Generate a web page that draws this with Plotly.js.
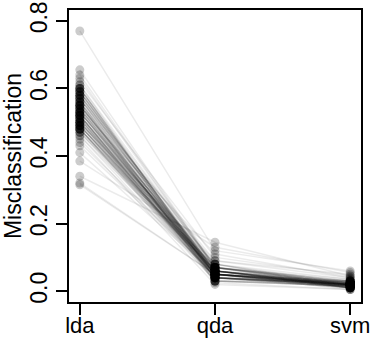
<!DOCTYPE html>
<html>
<head>
<meta charset="utf-8">
<script src="https://cdn.plot.ly/plotly-3.0.1.min.js"></script>
<style>html,body{margin:0;padding:0;background:#fff;}#chart{width:371px;height:339px;}</style>
</head>
<body>
<div id="chart"></div>
<script>
var methods = ['lda', 'qda', 'svm'];
var methodPos = [1, 2, 3];
var yTickVals = [0, 0.2, 0.4, 0.6, 0.8];
var yTickText = ['0.0', '0.2', '0.4', '0.6', '0.8'];

var lda = [0.53,0.58,0.49,0.55,0.60,0.51,0.47,0.56,0.52,0.59,
0.50,0.54,0.61,0.48,0.57,0.53,0.46,0.55,0.60,0.50,
0.52,0.49,0.56,0.58,0.51,0.44,0.54,0.59,0.48,0.53,
0.57,0.50,0.62,0.52,0.47,0.55,0.49,0.58,0.51,0.54,
0.60,0.48,0.53,0.56,0.43,0.52,0.59,0.50,0.55,0.49,
0.77,0.51,0.57,0.48,0.54,0.60,0.52,0.46,0.56,0.50,
0.58,0.53,0.49,0.61,0.55,0.41,0.52,0.57,0.48,0.54,
0.59,0.51,0.63,0.50,0.55,0.47,0.53,0.58,0.49,0.56,
0.32,0.52,0.60,0.48,0.54,0.385,0.51,0.57,0.50,0.655,
0.53,0.49,0.59,0.34,0.55,0.52,0.64,0.48,0.45,0.315];

var qda = [0.05,0.06,0.04,0.07,0.05,0.03,0.06,0.08,0.04,0.05,
0.07,0.05,0.04,0.06,0.09,0.05,0.03,0.06,0.05,0.07,
0.04,0.06,0.05,0.08,0.04,0.05,0.07,0.06,0.03,0.05,
0.06,0.04,0.10,0.05,0.07,0.04,0.06,0.05,0.08,0.04,
0.05,0.07,0.06,0.03,0.05,0.04,0.06,0.09,0.05,0.07,
0.12,0.05,0.06,0.04,0.05,0.07,0.03,0.06,0.05,0.08,
0.04,0.06,0.05,0.07,0.04,0.05,0.06,0.03,0.05,0.11,
0.06,0.04,0.07,0.05,0.06,0.04,0.08,0.05,0.06,0.025,
0.05,0.07,0.04,0.06,0.05,0.13,0.06,0.04,0.05,0.07,
0.06,0.05,0.04,0.145,0.06,0.05,0.07,0.04,0.02,0.05];

var svm = [0.02,0.015,0.025,0.01,0.03,0.02,0.015,0.035,0.01,0.02,
0.025,0.015,0.02,0.01,0.04,0.02,0.015,0.025,0.01,0.03,
0.02,0.015,0.025,0.01,0.02,0.005,0.03,0.02,0.015,0.025,
0.01,0.02,0.045,0.015,0.025,0.02,0.01,0.03,0.02,0.015,
0.025,0.02,0.01,0.015,0.03,0.02,0.025,0.05,0.015,0.02,
0.06,0.02,0.015,0.025,0.01,0.02,0.03,0.015,0.02,0.025,
0.01,0.02,0.015,0.035,0.02,0.01,0.025,0.015,0.02,0.04,
0.02,0.015,0.025,0.01,0.02,0.03,0.015,0.02,0.01,0.005,
0.025,0.02,0.015,0.03,0.02,0.055,0.01,0.025,0.02,0.015,
0.02,0.025,0.01,0.045,0.02,0.015,0.03,0.02,0.005,0.02];

var traces = [];
for (var i = 0; i < lda.length; i++) {
  traces.push({
    type: 'scatter', mode: 'lines',
    x: methodPos, y: [lda[i], qda[i], svm[i]],
    line: {color: 'rgba(0,0,0,0.08)', width: 1.5},
    hoverinfo: 'skip', showlegend: false
  });
}
var px = [], py = [];
var series = [lda, qda, svm];
for (var s = 0; s < 3; s++) {
  for (var j = 0; j < series[s].length; j++) { px.push(methodPos[s]); py.push(series[s][j]); }
}
traces.push({
  type: 'scatter', mode: 'markers', x: px, y: py,
  marker: {color: 'rgba(0,0,0,0.2)', size: 9, line: {width: 0}},
  showlegend: false
});

var font = {family: 'Liberation Sans, Arial, sans-serif', size: 23, color: '#000'};
var xfont = {family: 'Liberation Sans, Arial, sans-serif', size: 22, color: '#000'};
var layout = {
  width: 371, height: 339,
  margin: {l: 69, r: 10, t: 10, b: 37},
  paper_bgcolor: '#fff', plot_bgcolor: '#fff',
  font: font,
  showlegend: false,
  xaxis: {
    range: [0.92, 3.08], tickvals: methodPos, ticktext: methods,
    showgrid: false, zeroline: false,
    showline: true, mirror: true, linecolor: '#000', linewidth: 2,
    ticks: 'outside', ticklen: 11, tickwidth: 2, tickcolor: '#000',
    tickfont: xfont, ticklabelstandoff: -8
  },
  yaxis: {
    range: [-0.032, 0.832], tickvals: yTickVals, ticktext: yTickText,
    tickangle: -90,
    showgrid: false, zeroline: false,
    showline: true, mirror: true, linecolor: '#000', linewidth: 2,
    ticks: 'outside', ticklen: 11, tickwidth: 2, tickcolor: '#000',
    tickfont: font,
    title: {text: 'Misclassification', font: font, standoff: 3}
  }
};
Plotly.newPlot('chart', traces, layout, {displayModeBar: false, staticPlot: true});
</script>
</body>
</html>
